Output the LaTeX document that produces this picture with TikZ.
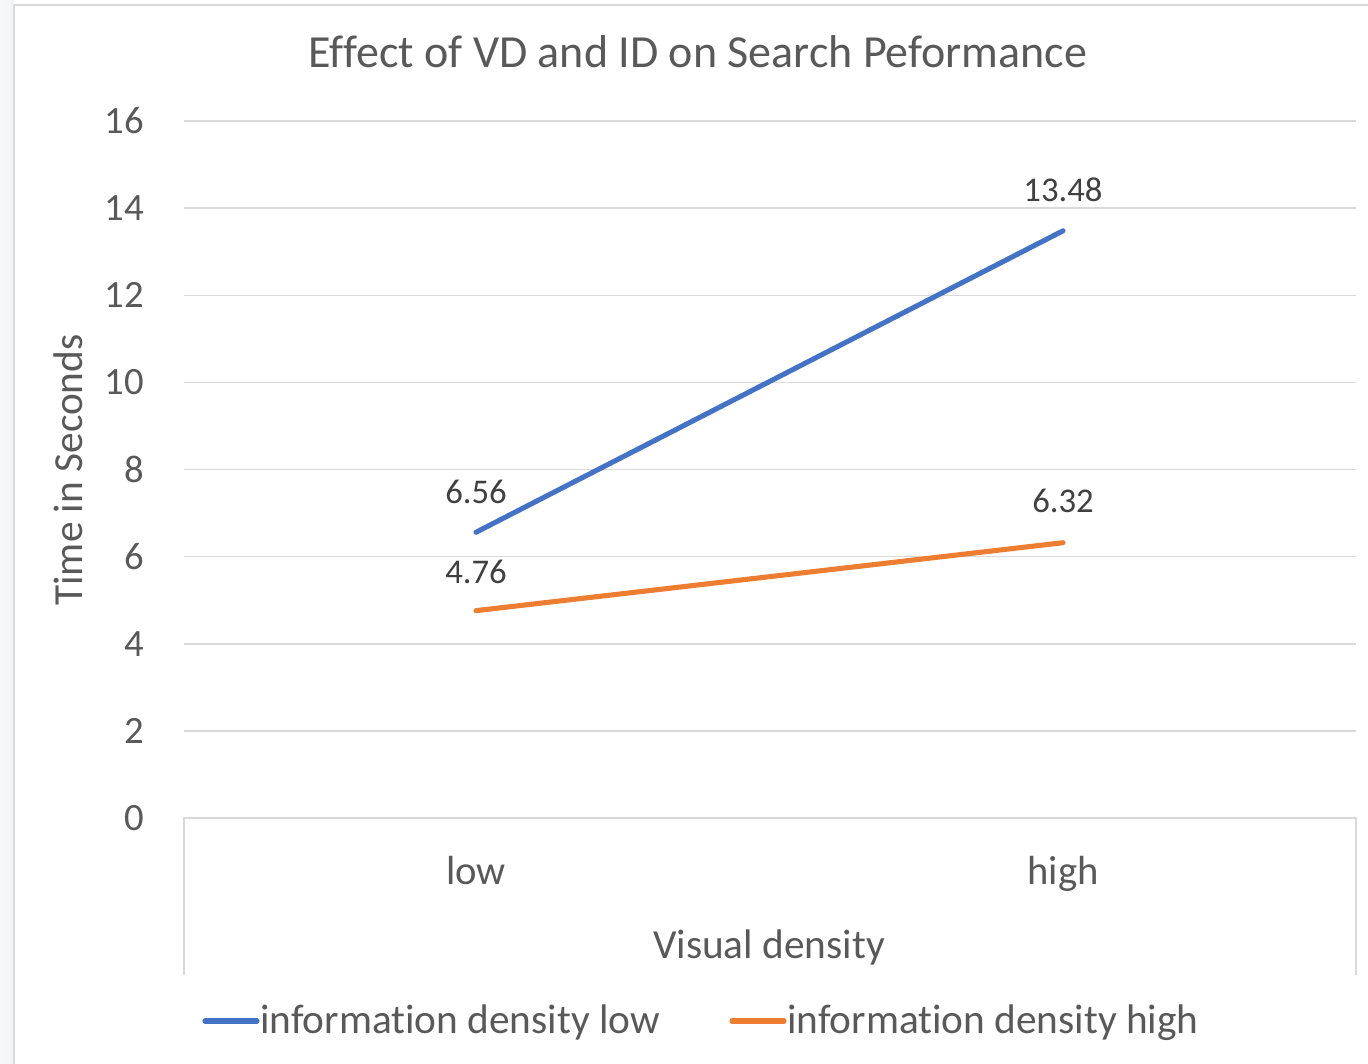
\documentclass[tikz,border=0pt]{standalone}
\usepackage{fontspec}
\setmainfont{Carlito}[Ligatures={NoCommon,NoContextual}]
\usepackage{tikz}
\usetikzlibrary{calc,positioning}
\definecolor{txt}{HTML}{595959}
\definecolor{dark}{HTML}{404040}
\definecolor{gridc}{HTML}{D9D9D9}
\definecolor{serA}{HTML}{4472C4}
\definecolor{serB}{HTML}{ED7D31}
\definecolor{side}{HTML}{F1F3F7}
\tikzset{
  gridln/.style={draw=gridc, line width=1.1pt},
  frame/.style={draw=gridc, line width=1.1pt},
  ser/.style={line width=3.8pt, line cap=round, line join=round},
  ticklab/.style={text=txt, inner sep=0pt, anchor=east, font=\fontsize{29pt}{32pt}\selectfont},
  catlab/.style={text=txt, inner sep=0pt, anchor=base, font=\fontsize{30.5pt}{33pt}\selectfont},
  axlab/.style={text=txt, inner sep=0pt, anchor=base, font=\fontsize{31pt}{34pt}\selectfont},
  datlab/.style={text=dark, inner sep=0pt, font=\fontsize{26pt}{29pt}\selectfont},
  leglab/.style={text=txt, inner sep=0pt, anchor=base west, font=\fontsize{31pt}{34pt}\selectfont},
}

\begin{document}
\begin{tikzpicture}[x=0.75pt,y=-0.75pt]
  \useasboundingbox (0,0) rectangle (1368,1064);
  \def\yz{818}
  \def\yu{43.56}
  % chart area
  \fill[left color=side!60, right color=side] (0,0) rectangle (14,1064);
  \fill[white] (14,5) rectangle (1368,1064);
  \draw[frame] (14,1064) -- (14,5) -- (1368,5);
  \node[text=txt, inner sep=0pt, anchor=base, font=\fontsize{34.5pt}{37pt}\selectfont] (title) at (698,67) {Effect of VD and ID on Search Peformance};
  % value axis
  \foreach \v in {2,4,...,16} {
    \draw[gridln] (184,{\yz-\v*\yu}) -- (1356,{\yz-\v*\yu});
  }
  \foreach \v in {0,2,...,16} {
    \node[ticklab] (tick\v) at (144,{\yz-\v*\yu}) {\v};
  }
  \draw[gridln] (184,975) -- (184,\yz) -- (1356,\yz) -- (1356,975);
  \node[axlab, rotate=90] (ytitle) at (82,470) {Time in Seconds};
  % category axis
  \node[catlab] (low) at (476,884) {low};
  \node[catlab] (high) at (1063,884) {high};
  \node[axlab] (xtitle) at (769,958) {Visual density};
  % series
  \coordinate (lowA) at (476,{\yz-6.56*\yu});
  \coordinate (highA) at (1063,{\yz-13.48*\yu});
  \coordinate (lowB) at (476,{\yz-4.76*\yu});
  \coordinate (highB) at (1063,{\yz-6.32*\yu});
  \draw[ser, serA] (lowA) -- (highA);
  \draw[ser, serB] (lowB) -- (highB);
  \node[datlab, above=21.5pt of lowA] (vlowA) {6.56};
  \node[datlab, above=21.5pt of highA] (vhighA) {13.48};
  \node[datlab, above=20pt of lowB] (vlowB) {4.76};
  \node[datlab, above=22.5pt of highB] (vhighB) {6.32};
  % legend
  \coordinate (legA1) at (205,1021);
  \coordinate (legA2) at (257,1021);
  \coordinate (legB1) at (732,1021);
  \coordinate (legB2) at (784,1021);
  \draw[ser, serA] (legA1) -- (legA2);
  \draw[ser, serB] (legB1) -- (legB2);
  \node[leglab] (legtA) at (260,1033) {information density low};
  \node[leglab] (legtB) at (787,1033) {information density high};
\end{tikzpicture}
\end{document}
